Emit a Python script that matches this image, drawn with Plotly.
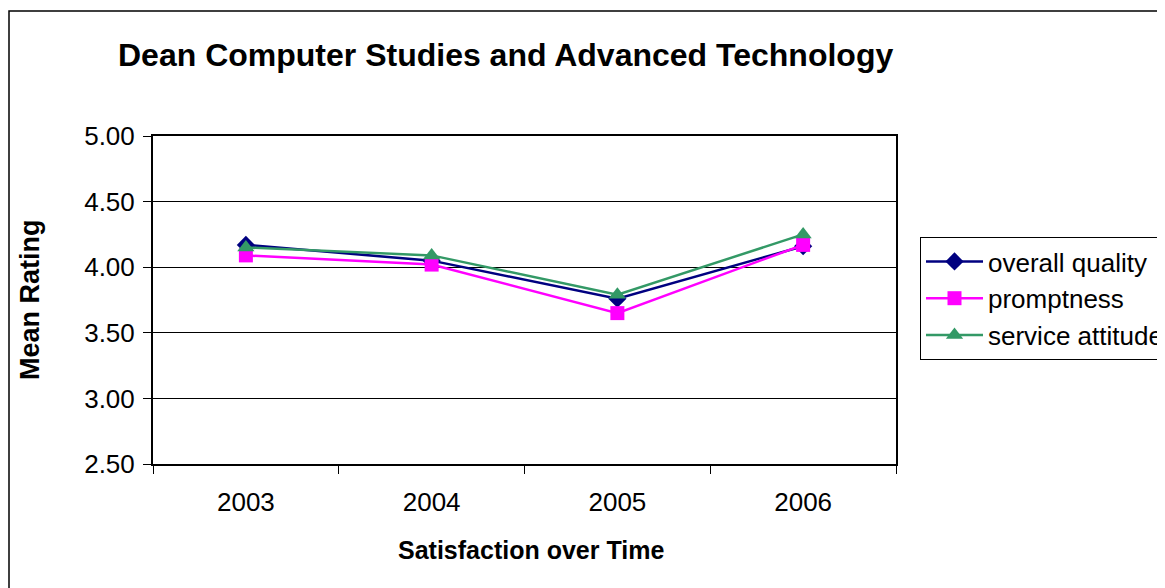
import plotly.graph_objects as go

years = ["2003", "2004", "2005", "2006"]
overall_quality = [4.17, 4.05, 3.76, 4.16]
promptness = [4.09, 4.02, 3.65, 4.17]
service_attitude = [4.15, 4.09, 3.79, 4.25]

# page body has an 8px margin; work in page pixels and convert
OFF = 8
W, H = 1165 - OFF, 588 - OFF
L, R, T, B = 153 - OFF, 896 - OFF, 136 - OFF, 464 - OFF
pw, ph = R - L, B - T

def px(x):
    return (x - OFF - L) / pw

def py(y):
    return (B - (y - OFF)) / ph

fig = go.Figure()
fig.add_trace(go.Scatter(x=years, y=overall_quality, name="overall quality", mode="lines+markers",
                         line=dict(color="#000080", width=2.5),
                         marker=dict(symbol="diamond", size=14, color="#000080")))
fig.add_trace(go.Scatter(x=years, y=promptness, name="promptness", mode="lines+markers",
                         line=dict(color="#FF00FF", width=2.5),
                         marker=dict(symbol="square", size=14, color="#FF00FF")))
fig.add_trace(go.Scatter(x=years, y=service_attitude, name="service attitude", mode="lines+markers",
                         line=dict(color="#339966", width=2.5),
                         marker=dict(symbol="triangle-up", size=15, color="#339966")))

fig.update_layout(
    width=W, height=H,
    margin=dict(l=L, r=W - R, t=T, b=H - B, autoexpand=False),
    paper_bgcolor="white", plot_bgcolor="white",
    font=dict(family="Arial, Liberation Sans, sans-serif", size=26, color="black"),
    showlegend=True,
    legend=dict(x=px(920), y=py(237), xanchor="left", yanchor="top",
                bordercolor="black", borderwidth=1, bgcolor="white",
                font=dict(size=26), tracegroupgap=0, itemwidth=57),
    xaxis=dict(type="category", tickson="boundaries", ticks="outside", ticklen=8,
               tickcolor="black", showline=True, linecolor="black", linewidth=2,
               mirror=True, showgrid=False, range=[-0.5, 3.5], tickfont=dict(size=26),
               ticklabelstandoff=14),
    yaxis=dict(range=[2.5, 5.0], dtick=0.5, tickformat=".2f", ticks="outside", ticklen=8,
               tickcolor="black", showline=True, linecolor="black", linewidth=2,
               mirror=True, showgrid=True, gridcolor="black", gridwidth=1,
               zeroline=False, tickfont=dict(size=26), ticklabelstandoff=3),
    shapes=[dict(type="rect", xref="paper", yref="paper",
                 x0=px(9), y0=-1.0, x1=2.0, y1=py(11),
                 line=dict(color="black", width=1.5), fillcolor="rgba(0,0,0,0)", layer="below")],
    annotations=[
        dict(text="<b>Dean Computer Studies and Advanced Technology</b>", xref="paper", yref="paper",
             x=px(505), y=py(55), showarrow=False, font=dict(size=32), xanchor="center", yanchor="middle"),
        dict(text="<b>Mean Rating</b>", xref="paper", yref="paper", x=px(30), y=py(300),
             textangle=-90, showarrow=False, font=dict(size=27), xanchor="center", yanchor="middle"),
        dict(text="<b>Satisfaction over Time</b>", xref="paper", yref="paper", x=px(531), y=py(550),
             showarrow=False, font=dict(size=25), xanchor="center", yanchor="middle"),
    ],
)

fig.write_html("out.html")
